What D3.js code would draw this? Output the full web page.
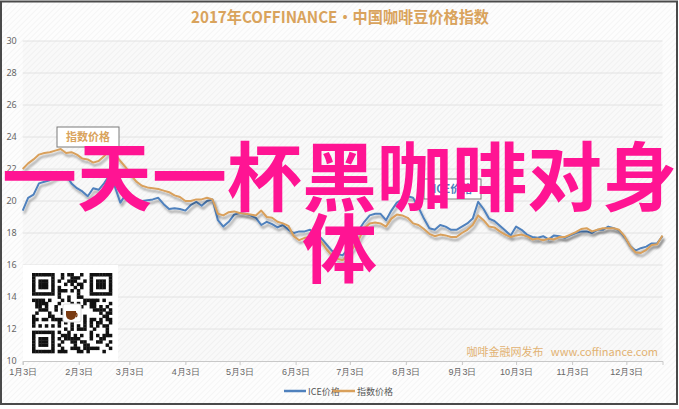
<!DOCTYPE html>
<html><head><meta charset="utf-8">
<script src="https://cdn.jsdelivr.net/npm/d3@7"></script>
<style>
html,body{margin:0;padding:0;background:#fff;}
svg{display:block;font-family:"Noto Sans CJK SC","Noto Sans",sans-serif;}
</style></head>
<body><svg id="c" width="679" height="409"></svg>
<script>
const title = "2017年COFFINANCE•中国咖啡豆价格指数";
const overlayLines = ["一天一杯黑咖啡对身", "体"];
const seriesNames = ["ICE价格", "指数价格"];
const seriesColors = ["#4f81bd", "#d9a05b"];
const yTicks = [10, 12, 14, 16, 18, 20, 22, 24, 26, 28, 30];
const xTickDates = ["1/3","2/3","3/3","4/3","5/3","6/3","7/3","8/3","9/3","10/3","11/3","12/3"];
const xTickLabels = ["1月3日","2月3日","3月3日","4月3日","5月3日","6月3日","7月3日","8月3日","9月3日","10月3日","11月3日","12月3日"];
const watermark = "咖啡金融网发布   www.coffinance.com";

const dates = ["1/3","1/6","1/9","1/12","1/15","1/18","1/21","1/24","1/27","1/30",
"2/2","2/5","2/8","2/11","2/14","2/17","2/20","2/23","2/26","3/1",
"3/4","3/7","3/10","3/13","3/16","3/19","3/22","3/25","3/28","3/31",
"4/3","4/6","4/9","4/12","4/15","4/18","4/21","4/24","4/27","4/30",
"5/3","5/6","5/9","5/12","5/15","5/18","5/21","5/24","5/27","5/30",
"6/2","6/5","6/8","6/11","6/14","6/17","6/20","6/23","6/26","6/29",
"7/2","7/5","7/8","7/11","7/14","7/17","7/20","7/23","7/26","7/29",
"8/1","8/4","8/7","8/10","8/13","8/16","8/19","8/22","8/25","8/28",
"8/31","9/3","9/6","9/9","9/12","9/15","9/18","9/21","9/24","9/27",
"9/30","10/3","10/6","10/9","10/12","10/15","10/18","10/21","10/24","10/27",
"10/30","11/2","11/5","11/8","11/11","11/14","11/17","11/20","11/23","11/26",
"11/29","12/2","12/5","12/8","12/11","12/14","12/17","12/20","12/23"];

const iceValues = [19.4,20.2,20.4,21.1,21.2,21.3,21.5,21.6,21.6,21.1,
20.8,20.6,20.3,20.8,20.7,21.1,21.6,20.9,19.9,20.4,
20.0,20.06,20.0,20.05,20.1,20.2,19.8,19.5,19.55,19.5,
19.4,19.75,19.95,19.7,20.0,20.1,18.8,18.4,18.7,19.15,
19.25,19.2,19.1,18.95,18.5,18.7,18.55,18.35,18.5,18.2,
18.0,18.1,18.1,18.2,17.9,17.7,17.3,16.9,16.7,16.6,
17.0,17.6,18.2,18.7,19.1,19.2,19.2,18.8,19.4,19.9,
20.1,20.3,20.2,19.6,18.9,18.3,18.2,18.5,18.4,18.2,
18.2,18.4,18.6,18.9,19.95,19.5,18.9,18.75,18.45,18.15,
17.85,18.4,18.2,17.9,17.75,17.7,17.8,17.6,17.85,17.8,
17.7,17.85,18.0,18.1,18.1,18.0,18.2,18.2,18.4,18.3,
18.15,17.75,17.2,16.9,17.05,17.15,17.35,17.35,17.8];

const indexValues = [22.0,22.35,22.6,22.9,23.0,23.05,23.15,23.25,23.0,23.05,
22.9,22.65,22.6,22.4,22.5,22.8,23.15,22.9,22.5,22.1,
21.6,21.2,20.95,20.85,20.8,20.75,20.65,20.55,20.35,20.25,
20.0,20.0,20.1,20.1,20.2,20.1,19.2,19.1,19.3,19.35,
19.25,19.2,19.15,19.1,19.4,19.0,18.95,18.7,18.6,18.45,
17.8,17.55,17.7,17.75,17.45,17.5,17.0,16.6,16.4,16.3,
16.6,17.1,17.6,18.3,18.6,18.65,18.6,18.4,18.9,19.15,
19.1,18.95,18.6,18.5,18.25,17.95,17.8,17.9,17.85,17.75,
17.75,18.0,18.2,18.5,19.1,18.8,18.4,18.35,18.1,17.9,
17.75,17.85,17.9,17.8,17.6,17.65,17.55,17.65,17.6,17.75,
17.75,17.9,18.05,18.25,18.3,18.1,18.2,18.3,18.3,18.3,
18.2,17.8,17.2,16.8,16.75,16.95,17.25,17.3,17.85];

const parse = s => d3.timeParse("%Y/%m/%d")("2017/" + s);
const svg = d3.select("#c");
const W = 679, H = 409;
const plot = {l: 22.7, r: 662.5, t: 41, b: 361};

const defs = svg.append("defs");
const pat = defs.append("pattern").attr("id","hatch").attr("width",4).attr("height",4)
  .attr("patternUnits","userSpaceOnUse").attr("patternTransform","rotate(45)");
pat.append("rect").attr("width",4).attr("height",4).attr("fill","#f9f9f9");
pat.append("line").attr("x1",0).attr("y1",0).attr("x2",0).attr("y2",4).attr("stroke","#ececec").attr("stroke-width",1.2);
const pat2 = defs.append("pattern").attr("id","hatch2").attr("width",4).attr("height",4)
  .attr("patternUnits","userSpaceOnUse").attr("patternTransform","rotate(45)");
pat2.append("rect").attr("width",4).attr("height",4).attr("fill","#fdfdfd");
pat2.append("line").attr("x1",0).attr("y1",0).attr("x2",0).attr("y2",4).attr("stroke","#f1f1f1").attr("stroke-width",1.2);
const flt = defs.append("filter").attr("id","shadow").attr("x","-5%").attr("y","-20%").attr("width","110%").attr("height","160%");
flt.append("feDropShadow").attr("dx",1.5).attr("dy",3).attr("stdDeviation",1.3)
  .attr("flood-color","#000").attr("flood-opacity",0.35);

// background
svg.append("rect").attr("x",0).attr("y",0).attr("width",W).attr("height",H).attr("fill","#fff");
svg.append("rect").attr("x",1).attr("y",1).attr("width",676).attr("height",403).attr("fill","url(#hatch2)");
svg.append("rect").attr("x",plot.l).attr("y",plot.t).attr("width",plot.r-plot.l).attr("height",plot.b-plot.t).attr("fill","url(#hatch)");
svg.append("rect").attr("x",1).attr("y",1.5).attr("width",676).attr("height",402.5)
  .attr("fill","none").attr("stroke","#4a4a4a").attr("stroke-width",2);

// title
svg.append("text").attr("x",340).attr("y",23).attr("text-anchor","middle")
  .attr("font-size",16).attr("font-weight","bold").attr("fill","#d9a35c")
  .attr("textLength",298).attr("lengthAdjust","spacingAndGlyphs").text(title);

const x = d3.scaleTime().domain([parse("1/3"), parse("12/23")]).range([plot.l, plot.r]);
const y = d3.scaleLinear().domain([10, 30]).range([plot.b, plot.t]);

// grid
svg.append("g").selectAll("line").data(yTicks.slice(1)).join("line")
  .attr("x1",plot.l).attr("x2",plot.r).attr("y1",d=>y(d)).attr("y2",d=>y(d))
  .attr("stroke","#e2e2e2").attr("stroke-width",1);

// y axis
const ya = svg.append("g").attr("transform",`translate(${plot.l},0)`)
  .call(d3.axisLeft(y).tickValues(yTicks).tickSize(0).tickPadding(6));
ya.select(".domain").remove();
ya.selectAll("text").attr("font-size",9).attr("fill","#666").attr("font-family","Noto Sans, sans-serif");

// x axis
const xa = svg.append("g").attr("transform",`translate(0,${plot.b})`)
  .call(d3.axisBottom(x).tickValues(xTickDates.map(parse)).tickSize(4).tickPadding(4)
    .tickFormat((d,i)=>xTickLabels[i]));
xa.select(".domain").attr("stroke","#c8c8c8");
xa.selectAll(".tick line").attr("stroke","#c8c8c8");
xa.selectAll("text").attr("font-size",9).attr("fill","#666");

// watermark
svg.append("text").attr("x",658).attr("y",356).attr("text-anchor","end")
  .attr("font-size",11).attr("fill","#e2b272").attr("xml:space","preserve").text(watermark);

// lines
const line = d3.line().x(d=>x(d.date)).y(d=>y(d.v));
[iceValues, indexValues].forEach((vals, k) => {
  const data = dates.map((s,i)=>({date: parse(s), v: vals[i]}));
  svg.append("path").datum(data).attr("d", line).attr("fill","none")
    .attr("stroke", seriesColors[k]).attr("stroke-width",2).attr("stroke-linejoin","round")
    .attr("filter","url(#shadow)");
});

// tooltips
function tip(cx, cy, w, txt, col){
  const g = svg.append("g");
  g.append("rect").attr("x",cx-w/2).attr("y",cy-10).attr("width",w).attr("height",20)
    .attr("fill","#fff").attr("stroke","#7a7a7a").attr("stroke-width",1);
  g.append("text").attr("x",cx).attr("y",cy+4).attr("text-anchor","middle")
    .attr("font-size",11).attr("font-weight","bold").attr("fill",col).text(txt);
}
tip(88, 137, 62, seriesNames[1], "#d9a35c");
tip(452.5, 189, 57, seriesNames[0], "#4f81bd");

// QR code box
const qx = 32, qy = 273, qs = 80, n = 25, m = qs/n;
svg.append("rect").attr("x",23).attr("y",265).attr("width",95).attr("height",96).attr("fill","#fff");
const qg = svg.append("g");
function isFinder(r,c){
  const f = (r0,c0)=> r>=r0 && r<r0+7 && c>=c0 && c<c0+7;
  return f(0,0)||f(0,n-7)||f(n-7,0);
}
function finderBit(r,c){
  const loc = (r0,c0)=>{const rr=r-r0, cc=c-c0; const e=Math.max(Math.abs(rr-3),Math.abs(cc-3)); return e===3||e<=1;};
  if (r<7&&c<7) return loc(0,0);
  if (r<7&&c>=n-7) return loc(0,n-7);
  return loc(n-7,0);
}
const cells = [];
for (let r=0;r<n;r++) for (let c=0;c<n;c++){
  let on;
  if (isFinder(r,c)) on = finderBit(r,c);
  else if ((r===7&&c<8)||(c===7&&r<8)||(r===7&&c>=n-8)||(c===n-8&&r<8)||(r===n-8&&c<8)||(c===7&&r>=n-8)) on=false;
  else { const h = ((r*31 + c*17) ^ (r*c*7 + 11)) % 11; on = h < 5; }
  if (on) cells.push([r,c]);
}
qg.selectAll("rect").data(cells).join("rect")
  .attr("x",d=>qx+d[1]*m).attr("y",d=>qy+d[0]*m).attr("width",m+0.3).attr("height",m+0.3).attr("fill","#111");
// center logo
svg.append("rect").attr("x",qx+qs/2-9).attr("y",qy+qs/2-9).attr("width",18).attr("height",18).attr("rx",2).attr("fill","#fff").attr("stroke","#ddd");
svg.append("path").attr("d",`M${qx+qs/2-6},${qy+qs/2-2} h10 v4 a5,5 0 0 1 -10,0 z`).attr("fill","#7a3b12");
svg.append("path").attr("d",`M${qx+qs/2+4},${qy+qs/2} a2.5,2.5 0 0 1 0,4`).attr("fill","none").attr("stroke","#7a3b12").attr("stroke-width",1.3);

// legend
const lg = svg.append("g");
const legX = [284, 333];
seriesNames.forEach((s,i)=>{
  lg.append("line").attr("x1",legX[i]).attr("x2",legX[i]+22).attr("y1",391).attr("y2",391)
    .attr("stroke",seriesColors[i]).attr("stroke-width",2.5);
  lg.append("text").attr("x",legX[i]+24).attr("y",394.5).attr("font-size",9).attr("fill","#555").text(s);
});

// overlay big text
overlayLines.forEach((t,i)=>{
  svg.append("text").attr("x",339.5).attr("y",205 + i*72).attr("text-anchor","middle")
    .attr("font-size",75).attr("font-weight","bold").attr("fill","#ff1493").text(t);
});
</script></body></html>
